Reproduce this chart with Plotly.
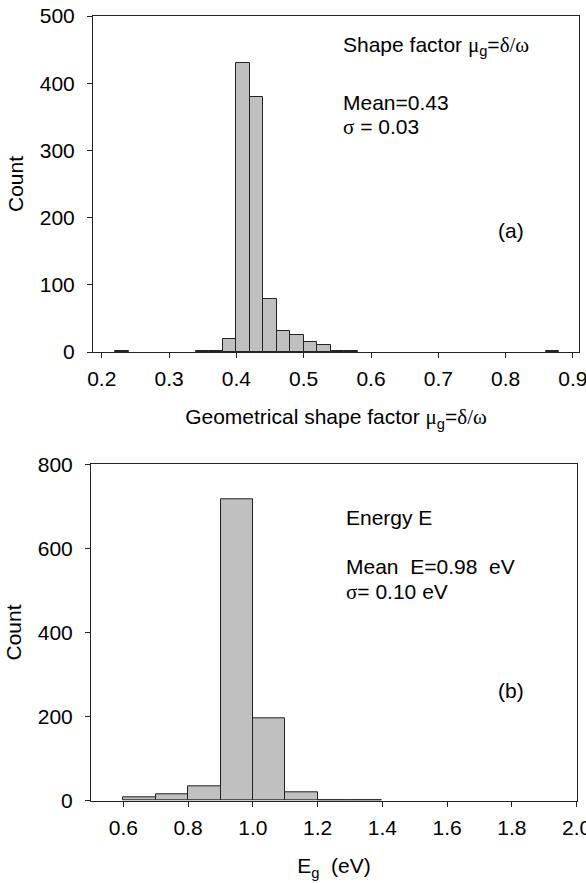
import plotly.graph_objects as go

# Panel (a): geometrical shape factor histogram (bin width 0.02)
shape_bin_left = [0.22, 0.34, 0.36, 0.38, 0.40, 0.42, 0.44, 0.46, 0.48, 0.50, 0.52, 0.54, 0.56, 0.86]
shape_counts = [1, 1, 2, 20, 430, 380, 79, 32, 25, 15, 10, 2, 2, 1]
shape_width = 0.02

# Panel (b): energy histogram (bin width 0.1 eV)
energy_bin_left = [0.6, 0.7, 0.8, 0.9, 1.0, 1.1, 1.2, 1.3]
energy_counts = [8, 15, 34, 717, 197, 21, 2, 1]
energy_width = 0.1

shape_ticks = [0.2, 0.3, 0.4, 0.5, 0.6, 0.7, 0.8, 0.9]
energy_ticks = [0.6, 0.8, 1.0, 1.2, 1.4, 1.6, 1.8, 2.0]

FONT = "Liberation Sans, Arial, sans-serif"
SERIF = "font-family:'Liberation Serif', 'Times New Roman', serif"
AX = "#222222"
FS = 21


def greek(s):
    return f"<span style=\"{SERIF}\">{s}</span>"


fig = go.Figure()

fig.add_trace(go.Bar(
    x=[l + shape_width / 2 for l in shape_bin_left], y=shape_counts,
    width=shape_width, marker=dict(color="#c0c0c0", line=dict(color="#222222", width=1)),
    xaxis="x", yaxis="y", showlegend=False,
))
fig.add_trace(go.Bar(
    x=[l + energy_width / 2 for l in energy_bin_left], y=energy_counts,
    width=energy_width, marker=dict(color="#c0c0c0", line=dict(color="#222222", width=1)),
    xaxis="x2", yaxis="y2", showlegend=False,
))

common = dict(showgrid=False, zeroline=False, showline=True, linecolor=AX, linewidth=1,
              mirror=True, ticks="outside", ticklen=5, tickcolor=AX, tickwidth=1,
              automargin=False, ticklabeloverflow="allow",
              tickfont=dict(size=FS, color="black", family=FONT))
xcommon = dict(ticklabelstandoff=3, **common)
ycommon = dict(ticklabelstandoff=8, **common)

mu_g = greek("μ") + "<sub>g</sub>=" + greek("δ/ω")

fig.update_layout(
    width=586, height=883,
    margin=dict(l=0, r=0, t=0, b=0),
    paper_bgcolor="white", plot_bgcolor="white",
    font=dict(family=FONT, size=FS, color="black"),
    bargap=0,
    xaxis=dict(domain=[93 / 586, 579 / 586], anchor="y", range=[0.187, 0.909],
               tickvals=shape_ticks, ticktext=[f"{v:.1f}" for v in shape_ticks],
               title=dict(text="Geometrical shape factor " + mu_g, standoff=20,
                          font=dict(size=FS)), **xcommon),
    yaxis=dict(domain=[(883 - 352) / 883, (883 - 16) / 883], anchor="x", range=[0, 500],
               tickvals=[0, 100, 200, 300, 400, 500],
               title=dict(text="Count", standoff=10, font=dict(size=FS)), **ycommon),
    xaxis2=dict(domain=[91 / 586, 577 / 586], anchor="y2", range=[0.5, 2.001],
                tickvals=energy_ticks, ticktext=[f"{v:.1f}" for v in energy_ticks],
                title=dict(text="E<sub>g</sub>  (eV)", standoff=20, font=dict(size=FS)), **xcommon),
    yaxis2=dict(domain=[(883 - 800.7) / 883, (883 - 464.3) / 883], anchor="x2", range=[0, 800],
                tickvals=[0, 200, 400, 600, 800],
                title=dict(text="Count", standoff=10, font=dict(size=FS)), **ycommon),
)

ann = []
def add(text, x, y, xref, yref, xanchor="left"):
    ann.append(dict(text=text, x=x, y=y, xref=xref, yref=yref, showarrow=False,
                    xanchor=xanchor, yanchor="middle", font=dict(size=FS, family=FONT, color="black")))

add("Shape factor " + mu_g, 0.556, 456, "x", "y")
add("Mean=0.43", 0.556, 372, "x", "y")
add(greek("σ") + " = 0.03", 0.556, 335, "x", "y")
add("(a)", 0.808, 181, "x", "y", xanchor="center")

add("Energy E", 1.281, 673, "x2", "y2")
add("Mean  E=0.98  eV", 1.281, 558, "x2", "y2")
add(greek("σ") + "= 0.10 eV", 1.281, 497, "x2", "y2")
add("(b)", 1.796, 263, "x2", "y2", xanchor="center")

fig.update_layout(annotations=ann)

fig.write_html("out.html")
